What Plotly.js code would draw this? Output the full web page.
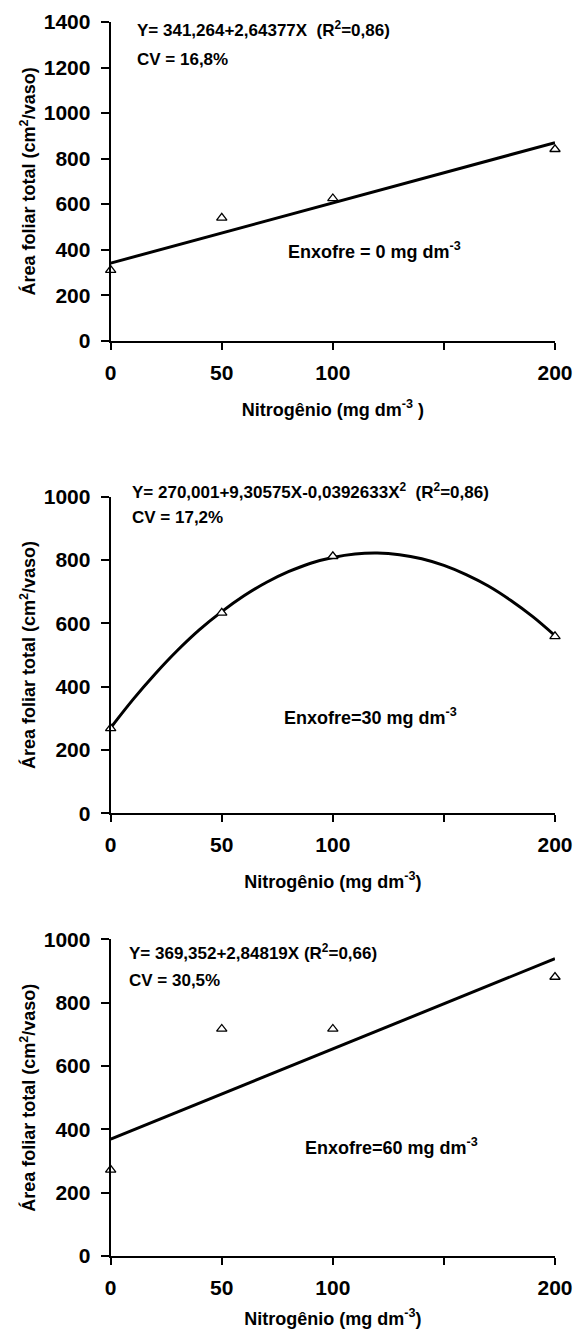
<!DOCTYPE html>
<html>
<head>
<meta charset="utf-8">
<script src="https://cdn.plot.ly/plotly-3.0.1.min.js"></script>
<style>
  html, body { margin: 0; padding: 0; background: #fff; }
  #chart { width: 578px; height: 1340px; }
</style>
</head>
<body>
<div id="chart"></div>
<script>
// Nitrogen doses (x) and observed total leaf area for each sulphur dose
const nitrogen = [0, 50, 100, 200];
const area_S0 = [310, 540, 625, 841];
const area_S30 = [268, 633, 812, 559];
const area_S60 = [272, 717, 717, 881];

// Fitted curves
const fitX_lin = [0, 200];
const fit_S0 = [341, 870];
const fit_S60 = [369, 939];
const fitX_quad = [0, 10, 20, 30, 40, 50, 60, 70, 80, 90, 100, 110, 120, 130, 140, 150, 160, 170, 180, 190, 200];
const fit_S30 = [270, 359, 440, 514, 580, 637, 687, 729, 763, 790, 808, 819, 822, 817, 804, 783, 754, 718, 673, 621, 561];

// Axis ticks
const xTickVals = [0, 50, 100, 150, 200];
const xTickText = ['0', '50', '100', '', '200'];

const FONT = 'Liberation Sans, Arial, sans-serif';
const BLACK = '#000';

// Annotation positions are fractions of each panel (x domain, y domain)
const panels = [
    {
        obs: area_S0, fitX: fitX_lin, fitY: fit_S0, ymax: 1400,
        domain: [0.7457, 0.9836],
        eq: 'Y= 341,264+2,64377X  (R<sup>2</sup>=0,86)', eqX: 0.055, eqY: 0.978,
        cv: 'CV = 16,8%', cvY: 0.881,
        label: 'Enxofre = 0 mg dm<sup>-3</sup>', labX: 0.594, labY: 0.284,
        xtitle: 'Nitrogênio (mg dm<sup>-3</sup> )',
    },
    {
        obs: area_S30, fitX: fitX_quad, fitY: fit_S30, ymax: 1000,
        domain: [0.3931, 0.6293],
        eq: 'Y= 270,001+9,30575X-0,0392633X<sup>2</sup>  (R<sup>2</sup>=0,86)', eqX: 0.043, eqY: 1.019,
        cv: 'CV = 17,2%', cvY: 0.933,
        label: 'Enxofre=30 mg dm<sup>-3</sup>', labX: 0.585, labY: 0.307,
        xtitle: 'Nitrogênio (mg dm<sup>-3</sup>)',
    },
    {
        obs: area_S60, fitX: fitX_lin, fitY: fit_S60, ymax: 1000,
        domain: [0.0627, 0.2990],
        eq: 'Y= 369,352+2,84819X (R<sup>2</sup>=0,66)', eqX: 0.036, eqY: 0.960,
        cv: 'CV = 30,5%', cvY: 0.871,
        label: 'Enxofre=60 mg dm<sup>-3</sup>', labX: 0.633, labY: 0.346,
        xtitle: 'Nitrogênio (mg dm<sup>-3</sup>)',
    },
];

const traces = [];
const layout = {
    width: 578, height: 1340,
    margin: { l: 0, r: 0, t: 0, b: 0 },
    paper_bgcolor: '#fff', plot_bgcolor: '#fff',
    showlegend: false,
    font: { family: FONT, color: BLACK, weight: 'bold' },
    annotations: [],
};

panels.forEach((p, i) => {
    const n = i === 0 ? '' : String(i + 1);
    const xa = 'x' + n, ya = 'y' + n;

    traces.push({
        x: p.fitX, y: p.fitY, xaxis: xa, yaxis: ya,
        mode: 'lines', type: 'scatter', cliponaxis: false,
        line: { color: BLACK, width: 3, shape: i === 1 ? 'spline' : 'linear' },
        hoverinfo: 'skip',
    });
    traces.push({
        x: nitrogen, y: p.obs, xaxis: xa, yaxis: ya,
        mode: 'markers', type: 'scatter', cliponaxis: false,
        marker: { symbol: 'triangle-up', size: 9, color: '#fff', line: { color: BLACK, width: 1.3 } },
    });

    layout['xaxis' + n] = {
        domain: [0.1915, 0.9602], anchor: ya,
        range: [0, 200], showgrid: false, zeroline: false,
        showline: true, linecolor: BLACK, linewidth: 2,
        ticks: 'outside', ticklen: 7, tickwidth: 2, tickcolor: BLACK,
        tickmode: 'array', tickvals: xTickVals, ticktext: xTickText,
        tickfont: { size: 21, family: FONT, weight: 'bold' },
        ticklabelstandoff: 5,
        title: { text: p.xtitle, standoff: i === 2 ? 14 : 20, font: { size: 18, family: FONT, weight: 'bold' } },
    };
    layout['yaxis' + n] = {
        domain: p.domain, anchor: xa,
        range: [0, p.ymax], dtick: 200, showgrid: false, zeroline: false,
        showline: true, linecolor: BLACK, linewidth: 2,
        ticks: 'outside', ticklen: 8, tickwidth: 2, tickcolor: BLACK,
        tickfont: { size: 21, family: FONT, weight: 'bold' },
        ticklabelstandoff: 6,
        title: { text: 'Área foliar total (cm<sup>2</sup>/vaso)', standoff: 3, font: { size: 18, family: FONT, weight: 'bold' } },
    };

    const txt = (text, x, y, size, xanchor) => ({
        text, x, y, xref: xa + ' domain', yref: ya + ' domain', xanchor, yanchor: 'middle',
        showarrow: false, font: { size, family: FONT, weight: 'bold', color: BLACK },
    });
    layout.annotations.push(txt(p.eq, p.eqX, p.eqY, 17, 'left'));
    layout.annotations.push(txt(p.cv, p.eqX, p.cvY, 17, 'left'));
    layout.annotations.push(txt(p.label, p.labX, p.labY, 18, 'center'));
});

Plotly.newPlot('chart', traces, layout, { displayModeBar: false, staticPlot: true });
</script>
</body>
</html>
